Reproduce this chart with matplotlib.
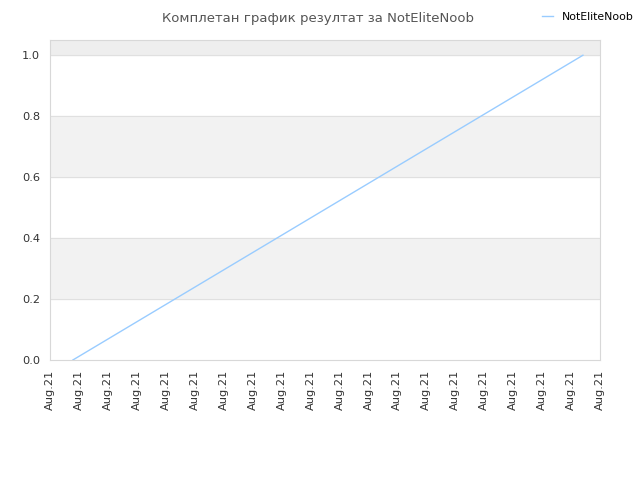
import matplotlib
matplotlib.use("Agg")
import matplotlib.pyplot as plt

title = "Комплетан график резултат за NotEliteNoob"
player = "NotEliteNoob"
tick_pos = list(range(20))
tick_labels = ["Aug.21"] * 20
x = [0.79, 18.41]
y = [0.0, 1.0]

fig = plt.figure(figsize=(6.4, 4.8), dpi=100)
ax = fig.add_axes([50/640, 1 - 360/480, 550/640, 320/480])

# alternating background bands
ax.axhspan(0.2, 0.4, color="#f2f2f2", zorder=0)
ax.axhspan(0.6, 0.8, color="#f2f2f2", zorder=0)
ax.axhspan(1.0, 1.05, color="#eeeeee", zorder=0)
for v in [0.2, 0.4, 0.6, 0.8, 1.0]:
    ax.axhline(v, color="#e0e0e0", lw=0.8, zorder=1)

ax.plot(x, y, color="#99ccff", lw=1, label=player, zorder=2)

ax.set_xlim(0, 19)
ax.set_ylim(0, 1.05)
ax.set_xticks(tick_pos)
ax.set_xticklabels(tick_labels, rotation=90)
ax.set_yticks([0, 0.2, 0.4, 0.6, 0.8, 1.0])
ax.set_yticklabels(["0.0", "0.2", "0.4", "0.6", "0.8", "1.0"])
ax.tick_params(labelsize=8.2, colors="#333333", length=0, pad=7)
for s in ax.spines.values():
    s.set_color("#d8d8d8")

fig.text(0.497, 0.975, title, ha="center", va="top", fontsize=9.5, color="#555555")
fig.legend(loc="upper right", bbox_to_anchor=(1.005, 0.995), frameon=False,
           fontsize=7.8, handlelength=1.0)

fig.savefig("out.png", dpi=100)
